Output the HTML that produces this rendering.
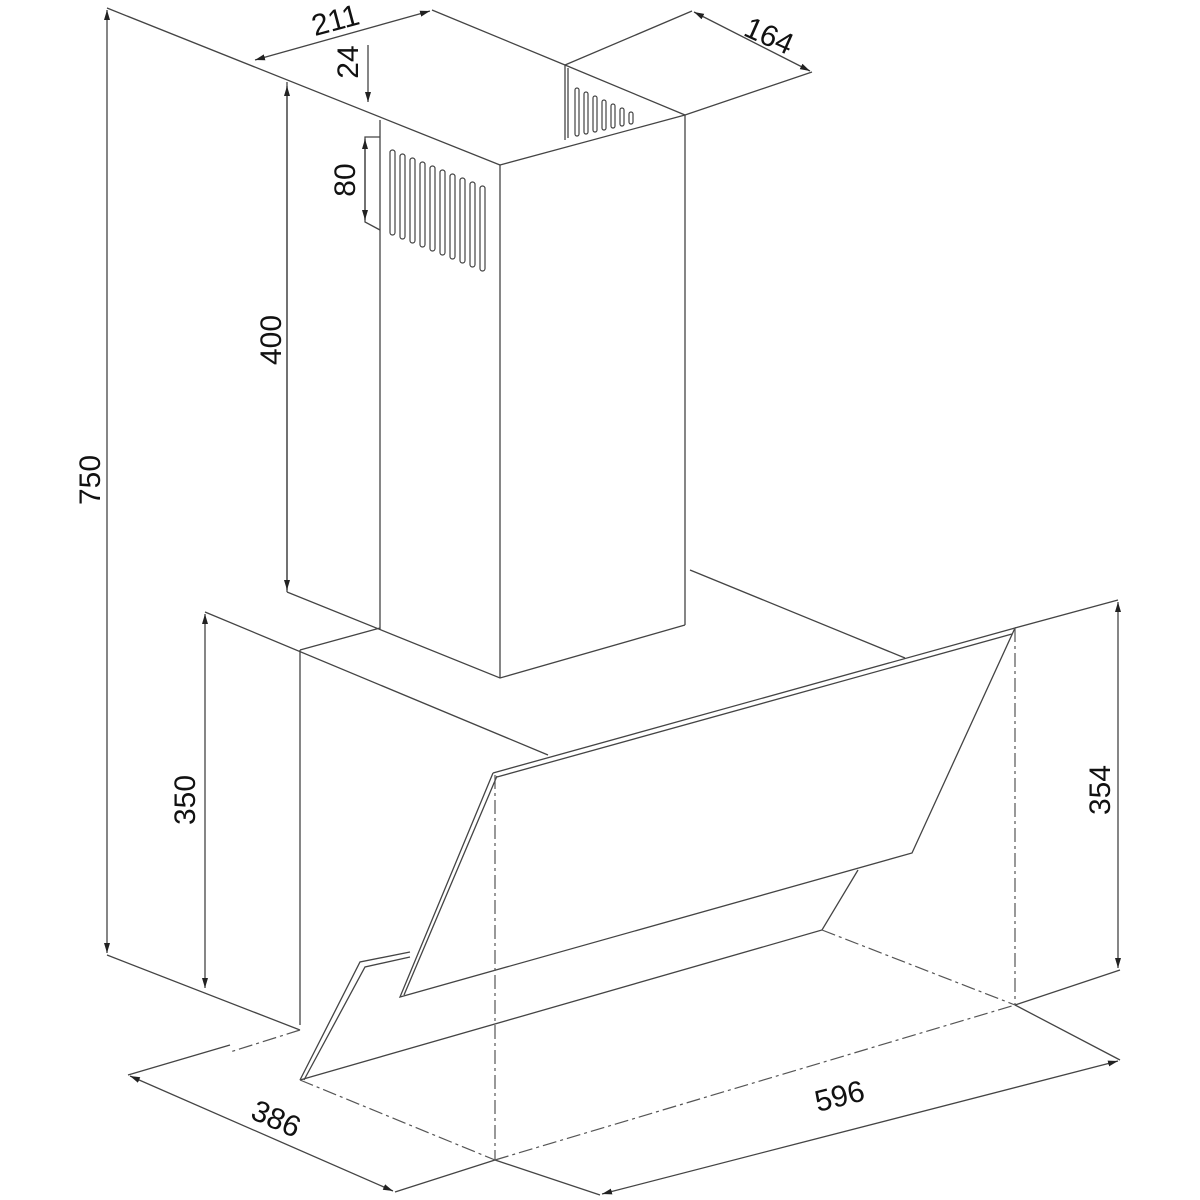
<!DOCTYPE html>
<html><head><meta charset="utf-8"><style>html,body{margin:0;padding:0;background:#fff}svg{display:block}text{font-family:"Liberation Sans",sans-serif;font-size:30px;fill:#111}</style></head>
<body>
<svg width="1200" height="1200" viewBox="0 0 1200 1200" xmlns="http://www.w3.org/2000/svg">
<defs>
<marker id="a" viewBox="0 0 10 10" refX="10" refY="5" markerWidth="10" markerHeight="10" orient="auto-start-reverse" markerUnits="userSpaceOnUse"><path d="M0,2 L10,5 L0,8 Z" fill="#222"/></marker>
</defs>
<g stroke="#444" stroke-width="1.3" fill="none">
<line x1="107" y1="8" x2="500" y2="165"/>
<line x1="107" y1="10" x2="107" y2="953" marker-start="url(#a)" marker-end="url(#a)"/>
<polyline points="107,955 300,1030"/>
<line x1="255" y1="60" x2="430" y2="11" marker-start="url(#a)" marker-end="url(#a)"/>
<line x1="432" y1="10" x2="565" y2="65"/>
<line x1="368" y1="45" x2="368" y2="102" marker-end="url(#a)"/>
<line x1="287" y1="82" x2="287" y2="592"/>
<line x1="380" y1="120" x2="380" y2="630"/>
<line x1="500" y1="165" x2="500" y2="678"/>
<line x1="685" y1="115" x2="685" y2="625"/>
<line x1="500" y1="165" x2="685" y2="115"/>
<line x1="565" y1="65" x2="685" y2="115"/>
<line x1="565" y1="65" x2="565" y2="140"/>
<line x1="568" y1="68" x2="568" y2="138"/>
<polyline points="287,592 500,678 685,625"/>
<line x1="287" y1="86" x2="287" y2="590" marker-start="url(#a)" marker-end="url(#a)"/>
<polyline points="380,137 365,137 365,222 380,230"/>
<line x1="365" y1="139" x2="365" y2="220" marker-start="url(#a)" marker-end="url(#a)"/>
<line x1="565" y1="65" x2="692" y2="11"/>
<line x1="685" y1="115" x2="812" y2="72"/>
<line x1="694" y1="12" x2="810" y2="71" marker-start="url(#a)" marker-end="url(#a)"/>
<line x1="690" y1="570" x2="905" y2="658"/>
<line x1="205" y1="612" x2="548" y2="755"/>
<line x1="300" y1="650" x2="380" y2="628"/>
<line x1="300" y1="650" x2="300" y2="1025"/>
<line x1="205" y1="614" x2="205" y2="988" marker-start="url(#a)" marker-end="url(#a)"/>
<polyline points="493,773 1015,628 912,853 400,997 493,773"/>
<polyline points="497,777 1012,634"/>
<polyline points="497,776 404,995"/>
<polyline points="410,952 360,962 300,1080"/>
<polyline points="410,957 365,967 304,1080"/>
<polyline points="858,870 822,930 300,1080"/>
<line x1="1015" y1="628" x2="1118" y2="600"/>
<line x1="1015" y1="1005" x2="1120" y2="970"/>
<line x1="1118" y1="602" x2="1118" y2="968" marker-start="url(#a)" marker-end="url(#a)"/>
<line x1="128" y1="1075" x2="230" y2="1045"/>
<line x1="130" y1="1076" x2="393" y2="1191" marker-start="url(#a)" marker-end="url(#a)"/>
<line x1="395" y1="1192" x2="495" y2="1160"/>
<line x1="495" y1="1160" x2="600" y2="1195"/>
<line x1="1015" y1="1005" x2="1120" y2="1060"/>
<line x1="602" y1="1194" x2="1118" y2="1061" marker-start="url(#a)" marker-end="url(#a)"/>
</g>
<g stroke="#555" stroke-width="1.2" fill="none" stroke-dasharray="14,4,3,4">
<line x1="822" y1="930" x2="1015" y2="1005"/>
<line x1="1015" y1="628" x2="1015" y2="1005"/>
<line x1="495" y1="775" x2="495" y2="1160"/>
<line x1="300" y1="1080" x2="495" y2="1160"/>
<line x1="495" y1="1160" x2="1015" y2="1005"/>
<line x1="300" y1="1030" x2="230" y2="1052"/>
</g>
<g stroke="#444" stroke-width="1.2" fill="none">
<rect x="390" y="150" width="5" height="85" rx="2.5"/>
<rect x="400" y="154" width="5" height="85" rx="2.5"/>
<rect x="410" y="158" width="5" height="85" rx="2.5"/>
<rect x="420" y="162" width="5" height="85" rx="2.5"/>
<rect x="430" y="166" width="5" height="85" rx="2.5"/>
<rect x="440" y="170" width="5" height="85" rx="2.5"/>
<rect x="450" y="174" width="5" height="85" rx="2.5"/>
<rect x="460" y="178" width="5" height="85" rx="2.5"/>
<rect x="470" y="182" width="5" height="85" rx="2.5"/>
<rect x="480" y="186" width="5" height="85" rx="2.5"/>
<rect x="575" y="88" width="4" height="48" rx="2"/>
<rect x="584" y="92" width="4" height="42" rx="2"/>
<rect x="593" y="96" width="4" height="36" rx="2"/>
<rect x="602" y="100" width="4" height="30" rx="2"/>
<rect x="611" y="104" width="4" height="24" rx="2"/>
<rect x="620" y="108" width="4" height="18" rx="2"/>
<rect x="629" y="112" width="4" height="12" rx="2"/>
</g>
<text transform="translate(100,480) rotate(-90)" text-anchor="middle">750</text>
<text transform="translate(338,30) rotate(-15)" text-anchor="middle">211</text>
<text transform="translate(358,62) rotate(-90)" text-anchor="middle">24</text>
<text transform="translate(355,180) rotate(-90)" text-anchor="middle">80</text>
<text transform="translate(281,340) rotate(-90)" text-anchor="middle">400</text>
<text transform="translate(765,45) rotate(24)" text-anchor="middle">164</text>
<text transform="translate(195,800) rotate(-90)" text-anchor="middle">350</text>
<text transform="translate(1110,790) rotate(-90)" text-anchor="middle">354</text>
<text transform="translate(272,1128) rotate(24)" text-anchor="middle">386</text>
<text transform="translate(842,1106) rotate(-14)" text-anchor="middle">596</text>
</svg>
</body></html>
